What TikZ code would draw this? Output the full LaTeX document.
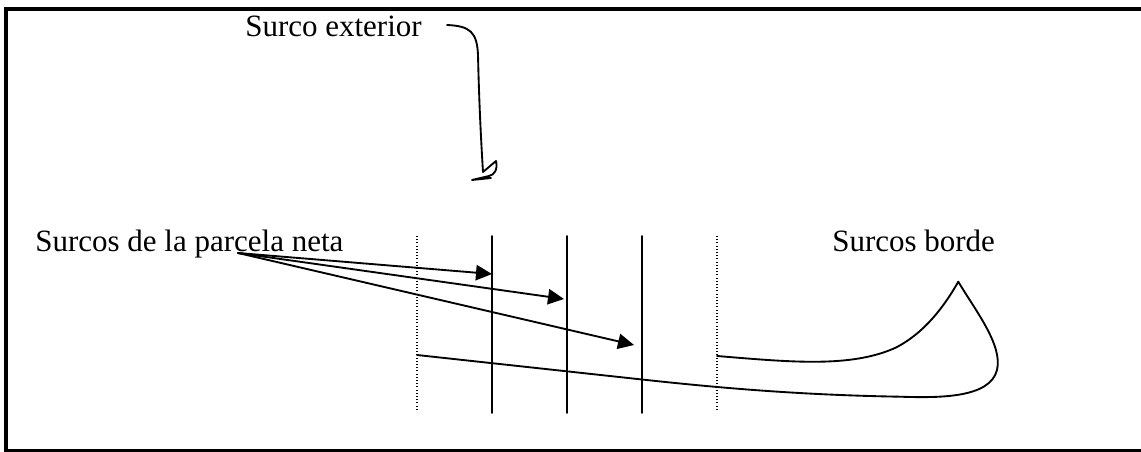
\documentclass[tikz,border=0pt]{standalone}
\usepackage{fontspec}
\setmainfont{Liberation Serif}
\usetikzlibrary{arrows.meta}
\tikzset{
  lbl/.style={anchor=base west, inner sep=0pt, font=\fontsize{23.25}{28}\selectfont},
  stroke/.style={line width=1.4pt, line join=round, line cap=round},
  dotline/.style={line width=1pt, dash pattern=on 0.8pt off 1.6pt},
  arr/.style={stroke, -{Triangle[length=12pt,width=11.5pt]}},
  frame/.style={line width=3pt}
}
\begin{document}
\begin{tikzpicture}[x=0.75pt,y=-0.75pt]
\useasboundingbox (0,0) rectangle (1141,452);
\clip (0,0) rectangle (1141,452);
\draw[frame] (6,9) rectangle (1150,451);
% labels
\node[lbl] (ext) at (245,37) {Surco exterior};
\node[lbl] (neta) at (35,252) {Surcos de la parcela neta};
\node[lbl] (borde) at (832,252) {Surcos borde};
% rows
\coordinate (d1t) at (417,236); \coordinate (d1b) at (417,410);
\coordinate (s1t) at (492,236); \coordinate (s1b) at (492,413);
\coordinate (s2t) at (567,236); \coordinate (s2b) at (567,413);
\coordinate (s3t) at (642,236); \coordinate (s3b) at (642,413);
\coordinate (d2t) at (717,236); \coordinate (d2b) at (717,410);
\draw[dotline] (d1t) -- (d1b);
\draw[dotline] (d2t) -- (d2b);
\draw[stroke] (s1t) -- (s1b);
\draw[stroke] (s2t) -- (s2b);
\draw[stroke] (s3t) -- (s3b);
% arrows
\coordinate (src) at (238,253);
\coordinate (a1) at (492,274);
\coordinate (a2) at (564,299);
\coordinate (a3) at (634,345);
\draw[arr] (src) -- (a1);
\draw[arr] (src) -- (a2);
\draw[arr] (src) -- (a3);
% surco exterior pointer
\coordinate (e0) at (447,25);
\draw[stroke] (e0) .. controls (470,26) and (477,32) .. (478,55)
  .. controls (479,100) and (481,140) .. (483,172)
  -- (496,161) .. controls (498,170) and (494,175) .. (489,176)
  -- (472,180) -- (491,178);
% surcos borde brace
\coordinate (b0) at (717,356);
\coordinate (b1) at (417,355);
\draw[stroke] (b0) .. controls (790,362) and (850,368) .. (895,348)
  .. controls (925,333) and (945,305) .. (958.3,281.7)
  .. controls (975,310) and (1003,345) .. (997,370)
  .. controls (990,398) and (940,398) .. (900,396.7)
  .. controls (800,395) and (720,388) .. (642,379.5)
  -- (b1);
\end{tikzpicture}
\end{document}
